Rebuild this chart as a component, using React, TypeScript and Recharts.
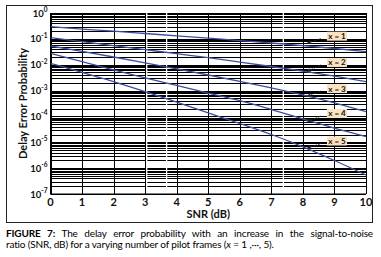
import React from 'react';
import { LineChart, Line, XAxis, YAxis, CartesianGrid, ReferenceLine, ReferenceDot, Label } from 'recharts';

const snr = [0, 1, 2, 3, 4, 5, 6, 7, 8, 9, 10];
const pX1 = [0.295, 0.24, 0.198, 0.161, 0.131, 0.106, 0.0857, 0.0692, 0.0548, 0.0424, 0.0318];
const pX2 = [0.111, 0.0776, 0.0543, 0.0381, 0.0267, 0.0187, 0.0127, 0.00853, 0.00561, 0.0036, 0.0022];
const pX3 = [0.053, 0.0327, 0.0199, 0.01186, 0.00695, 0.004, 0.00226, 0.00126, 0.000675, 0.000331, 0.000155];
const pX4 = [0.0277, 0.0131, 0.00625, 0.00312, 0.00158, 0.0008, 0.000406, 0.000185, 8.03e-5, 3.51e-5, 1.65e-5];
const pX5 = [0.01135, 0.00505, 0.00224, 0.000914, 0.000356, 0.000137, 5.33e-5, 2.0e-5, 6.7e-6, 1.98e-6, 5.43e-7];

const seriesKeys = ['x1', 'x2', 'x3', 'x4', 'x5'];
const seriesValues = [pX1, pX2, pX3, pX4, pX5];

const xTicks = [0, 1, 2, 3, 4, 5, 6, 7, 8, 9, 10];
const yExponents = [0, -1, -2, -3, -4, -5, -6, -7];
const minorMultipliers = [1, 2, 3, 4, 5, 6, 7, 8, 9];
const whiteStreaks = [3.05, 3.68, 7.38];

const curveLabels = ['x = 1', 'x = 2', 'x = 3', 'x = 4', 'x = 5'];
const labelSnr = 9.08;
const labelP = [0.127, 0.0122, 0.0012, 1.3e-4, 1.12e-5];
const arrowTipSnr = 8.12;
const arrowTipP = [0.0673, 0.00537, 5.81e-4, 6.27e-5, 5.86e-6];
const arrowTailSnr = 8.57;
const arrowTailP = [0.1014, 0.00975, 9.57e-4, 1.03e-4, 8.97e-6];

const data = snr.map((s, i) => {
  const row: Record<string, number> = { snr: s };
  seriesKeys.forEach((k, j) => {
    row[k] = seriesValues[j][i];
  });
  return row;
});

const yTicks = yExponents.map((e) => Math.pow(10, e));
const gridValues: number[] = [];
yExponents.forEach((e) => {
  minorMultipliers.forEach((m) => {
    const v = m * Math.pow(10, e);
    if (v <= 1.0000001) gridValues.push(v);
  });
});

const FONT = 'Lato, "Open Sans", sans-serif';

const scaleOf = (axis: any) => {
  const s = axis && axis.scale;
  if (typeof s === 'function') return s;
  if (s && typeof s.map === 'function') return (v: number) => s.map(v);
  return null;
};

const hGen = (args: any) => {
  const sc = scaleOf(args.yAxis);
  if (!sc) return [];
  return gridValues.map((v) => Math.round(sc(v)) + 0.5);
};
const vGen = (args: any) => {
  const sc = scaleOf(args.xAxis);
  if (!sc) return [];
  return xTicks.map((v) => Math.round(sc(v)) + 0.5);
};
const wGen = (args: any) => {
  const sc = scaleOf(args.xAxis);
  if (!sc) return [];
  return whiteStreaks.map((v) => sc(v));
};

const YTick = (props: any) => {
  const { x, y, payload } = props;
  const e = Math.round(Math.log10(payload.value));
  return (
    <text x={x} y={y} textAnchor="end" fontFamily={FONT} fontWeight={700} fill="#111" fontSize={9.5}>
      <tspan dy={3.5}>10</tspan>
      <tspan dy={-4.5} fontSize={6.5}>{String(e)}</tspan>
    </text>
  );
};

const Arrow = (props: any) => {
  const { x1, y1, x2, y2 } = props;
  const ang = Math.atan2(y2 - y1, x2 - x1);
  const L = 4;
  const W = 2;
  const bx = x2 - L * Math.cos(ang);
  const by = y2 - L * Math.sin(ang);
  const px = -Math.sin(ang) * W;
  const py = Math.cos(ang) * W;
  return (
    <g>
      <line x1={x1} y1={y1} x2={bx} y2={by} stroke="#222" strokeWidth={0.9} strokeDasharray="3 1.5" />
      <polygon points={`${x2},${y2} ${bx + px},${by + py} ${bx - px},${by - py}`} fill="#222" />
    </g>
  );
};

const makeLabelShape = (text: string) => (props: any) => {
  const { cx, cy } = props;
  return (
    <g>
      <rect x={cx - 10} y={cy - 4.5} width={20} height={9} fill="#fbe2c2" />
      <text x={cx} y={cy + 3} textAnchor="middle" fontFamily={FONT} fontWeight={700} fontSize={8} fill="#111">
        {text}
      </text>
    </g>
  );
};

export default function App() {
  return (
    <div style={{ position: 'absolute', left: 0, top: 0, width: 381, height: 257, background: '#fff' }}>
      <div
        style={{
          position: 'absolute',
          left: 6,
          top: 5,
          width: 367,
          height: 218,
          border: '1px solid #222',
          boxSizing: 'border-box',
        }}
      />
      <div style={{ position: 'absolute', left: 0, top: 0 }}>
        <LineChart width={381} height={225} data={data} margin={{ top: 13, right: 15, bottom: 0, left: 0 }}>
          <CartesianGrid
            vertical={true}
            horizontal={true}
            stroke="#000"
            strokeWidth={1}
            horizontalCoordinatesGenerator={hGen}
            verticalCoordinatesGenerator={vGen}
          />
          <CartesianGrid
            vertical={true}
            horizontal={false}
            stroke="#fff"
            strokeWidth={1.3}
            verticalCoordinatesGenerator={wGen}
          />
          <XAxis
            dataKey="snr"
            type="number"
            domain={[0, 10]}
            ticks={xTicks}
            interval={0}
            height={31}
            tickSize={0}
            tickMargin={4}
            axisLine={{ stroke: '#000' }}
            tickLine={false}
            tick={{ fontFamily: FONT, fontWeight: 700, fontSize: 11, fill: '#111' }}
          >
            <Label
              value="SNR (dB)"
              position="insideBottom"
              offset={7}
              style={{ fontFamily: FONT, fontWeight: 700, fontSize: 11, fill: '#111' }}
            />
          </XAxis>
          <YAxis
            type="number"
            scale="log"
            domain={[1e-7, 1]}
            allowDataOverflow
            ticks={yTicks}
            interval={0}
            width={50.5}
            tickSize={0}
            tickMargin={3}
            axisLine={{ stroke: '#000' }}
            tickLine={false}
            tick={<YTick />}
          >
            <Label
              content={(p: any) => {
                const vb = p.viewBox || { x: 0, y: 13, width: 50, height: 181 };
                const cx = vb.x + 22;
                const cy = vb.y + vb.height / 2;
                return (
                  <text
                    x={cx}
                    y={cy}
                    transform={`rotate(-90 ${cx} ${cy})`}
                    textAnchor="middle"
                    dominantBaseline="central"
                    fontFamily={FONT}
                    fontWeight={700}
                    fontSize={11}
                    fill="#111"
                  >
                    Delay Error Probability
                  </text>
                );
              }}
            />
          </YAxis>
          {seriesKeys.map((k) => (
            <Line
              key={k}
              dataKey={k}
              type="monotone"
              stroke="#3d4ea3"
              strokeWidth={1.3}
              dot={false}
              isAnimationActive={false}
            />
          ))}
          {curveLabels.map((t, i) => (
            <ReferenceLine
              key={'a' + i}
              segment={[
                { x: arrowTailSnr, y: arrowTailP[i] },
                { x: arrowTipSnr, y: arrowTipP[i] },
              ]}
              shape={<Arrow />}
            />
          ))}
          {curveLabels.map((t, i) => (
            <ReferenceDot key={'l' + i} x={labelSnr} y={labelP[i]} r={1} shape={makeLabelShape(t)} />
          ))}
        </LineChart>
      </div>
      <div
        style={{
          position: 'absolute',
          left: 6,
          top: 228,
          width: 367,
          fontFamily: FONT,
          fontSize: 10,
          lineHeight: '11px',
          color: '#000',
          letterSpacing: '-0.15px',
        }}
      >
        <div style={{ textAlign: 'justify', textAlignLast: 'justify', whiteSpace: 'nowrap' }}>
          <b>FIGURE 7:</b> The delay error probability with an increase in the signal-to-noise
        </div>
        <div style={{ whiteSpace: 'nowrap' }}>
          ratio (SNR, dB) for a varying number of pilot frames (<i>x</i> = 1 ,···, 5).
        </div>
      </div>
    </div>
  );
}
